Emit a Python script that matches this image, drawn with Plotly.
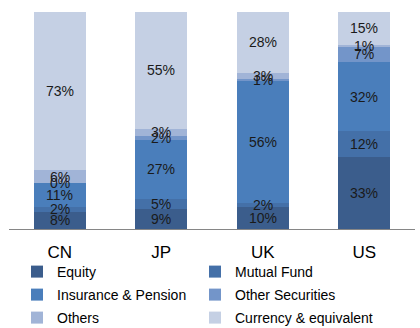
import plotly.graph_objects as go
import numpy as np

countries = ["CN", "JP", "UK", "US"]
series_names = ["Equity", "Mutual Fund", "Insurance & Pension", "Other Securities", "Others", "Currency & equivalent"]
equity = [8, 9, 10, 33]
mutual_fund = [2, 5, 2, 12]
insurance = [11, 27, 56, 32]
other_sec = [0, 2, 1, 7]
others = [6, 3, 3, 1]
currency = [73, 55, 28, 15]
colors = ["#3B5D8C", "#4470A8", "#4A7EBB", "#7395C9", "#A1B4D7", "#C5D0E4"]

all_series = [equity, mutual_fund, insurance, other_sec, others, currency]
legend_ids = ["legend", "legend", "legend2", "legend2", "legend3", "legend3"]

FONT = "Liberation Sans"
H = 328
fig = go.Figure()
for name, vals, c, lg in zip(series_names, all_series, colors, legend_ids):
    fig.add_trace(go.Bar(x=countries, y=vals, name=name, legend=lg,
                         marker=dict(color=c, line=dict(width=0))))

cum = np.zeros(len(countries))
for vals in all_series:
    v = np.array(vals, dtype=float)
    mids = cum + v / 2
    for i, ct in enumerate(countries):
        fig.add_annotation(x=ct, y=mids[i], text=f"{vals[i]}%", showarrow=False,
                           font=dict(family=FONT, size=14, color="#1a1a1a"),
                           xref="x", yref="y")
    cum += v

def leg(row_center_px):
    return dict(orientation="h", x=17 / 420, xref="container", xanchor="left",
                y=1 - row_center_px / H, yref="container", yanchor="middle",
                entrywidth=133, traceorder="normal", bgcolor="rgba(0,0,0,0)",
                font=dict(family=FONT, size=14, color="#000"),
                itemclick=False, itemdoubleclick=False)

fig.update_layout(
    barmode="stack",
    bargap=0.49,
    width=420, height=H,
    margin=dict(l=9, r=5, t=12, b=99, autoexpand=False),
    paper_bgcolor="white", plot_bgcolor="white",
    font=dict(family=FONT, size=14, color="#000"),
    showlegend=True,
    legend=leg(272), legend2=leg(295), legend3=leg(318),
)
fig.update_xaxes(showline=True, linecolor="#868686", linewidth=1, ticks="", automargin=False,
                 tickfont=dict(family=FONT, size=17, color="#000"), ticklabelstandoff=8)
fig.update_yaxes(range=[0, 100], visible=False, showgrid=False, automargin=False)
fig.write_html("out.html")
